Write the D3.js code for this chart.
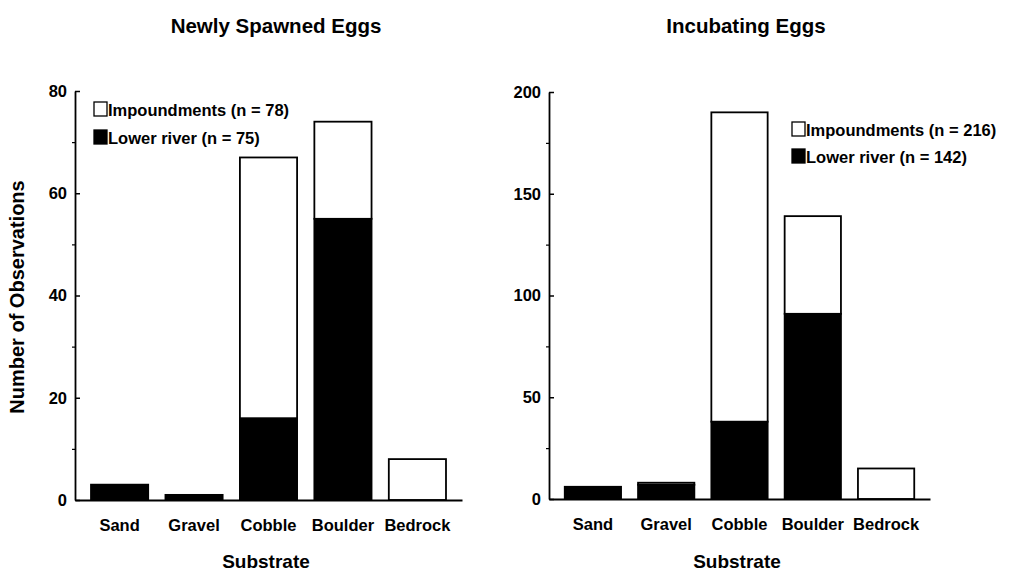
<!DOCTYPE html>
<html>
<head>
<meta charset="utf-8">
<script src="https://cdn.jsdelivr.net/npm/d3@7"></script>
<style>
  html, body { margin: 0; padding: 0; background: #fff; }
  svg { display: block; font-family: "Liberation Sans", Arial, Helvetica, sans-serif; }
</style>
</head>
<body>
<svg id="chart" width="1010" height="584"></svg>
<script>
// ---- data ----
const categories = ["Sand", "Gravel", "Cobble", "Boulder", "Bedrock"];
const spawnedLower = [3, 1, 16, 55, 0];
const spawnedImpound = [0, 0, 51, 19, 8];
const incubLower = [6, 7, 38, 91, 0];
const incubImpound = [0, 1, 152, 48, 15];
const spawnedTicks = [0, 20, 40, 60, 80];
const spawnedMinorTicks = [10, 30, 50, 70];
const incubTicks = [0, 50, 100, 150, 200];
const incubMinorTicks = [25, 75, 125, 175];
const spawnedLegend = ["Impoundments (n = 78)", "Lower river (n = 75)"];
const incubLegend = ["Impoundments (n = 216)", "Lower river (n = 142)"];

const svg = d3.select("#chart");

function panel(opt) {
  const rows = categories.map((c, i) => ({ cat: c, lower: opt.lower[i], impound: opt.impound[i] }));
  const x = d3.scaleBand().domain(categories).range([opt.x0, opt.x1])
    .paddingInner(0.232).paddingOuter(0.215);
  const y = d3.scaleLinear().domain([0, opt.max]).range([opt.yBottom, opt.yTop]);
  const g = svg.append("g");

  const stack = d3.stack().keys(["lower", "impound"])(rows);
  const fills = { lower: "#000", impound: "#fff" };
  stack.forEach(s => {
    g.append("g").selectAll("rect")
      .data(s.filter(d => d[1] - d[0] > 0))
      .join("rect")
      .attr("x", d => x(d.data.cat))
      .attr("width", x.bandwidth())
      .attr("y", d => y(d[1]))
      .attr("height", d => y(d[0]) - y(d[1]))
      .attr("fill", fills[s.key])
      .attr("stroke", "#000")
      .attr("stroke-width", 1.8);
  });

  // y axis (major ticks inward)
  const ya = g.append("g").attr("transform", `translate(${opt.x0},0)`)
    .call(d3.axisLeft(y).tickValues(opt.ticks).tickSizeInner(-5).tickSizeOuter(0).tickPadding(8));
  ya.select(".domain").attr("stroke-width", 1.8);
  ya.selectAll(".tick line").attr("stroke-width", 1.5);
  ya.selectAll(".tick text").attr("font-size", 16.5).attr("font-weight", "bold").attr("fill", "#000");
  // minor ticks
  const ym = g.append("g").attr("transform", `translate(${opt.x0},0)`)
    .call(d3.axisLeft(y).tickValues(opt.minor).tickSizeInner(3).tickSizeOuter(0).tickFormat(""));
  ym.select(".domain").remove();
  ym.selectAll(".tick line").attr("stroke-width", 1.2);

  // x axis
  const xa = g.append("g").attr("transform", `translate(0,${opt.yBottom})`)
    .call(d3.axisBottom(x).tickSize(0).tickSizeOuter(0).tickPadding(19));
  xa.select(".domain").attr("stroke-width", 2);
  xa.selectAll(".tick text").attr("font-size", 16.5).attr("font-weight", "bold").attr("fill", "#000");

  // title
  g.append("text").attr("x", opt.titleX).attr("y", 33).attr("text-anchor", "middle")
    .attr("font-size", 20.5).attr("font-weight", "bold").text(opt.title);

  // x title
  g.append("text").attr("x", opt.subX).attr("y", 568).attr("text-anchor", "middle")
    .attr("font-size", 19).attr("font-weight", "bold").text("Substrate");

  // legend
  const lg = g.append("g").attr("transform", `translate(${opt.legX},${opt.legY})`);
  opt.legend.forEach((t, i) => {
    const yy = i * opt.legGap;
    lg.append("rect").attr("x", 0).attr("y", yy - 14).attr("width", 13).attr("height", 14)
      .attr("fill", i === 0 ? "#fff" : "#000").attr("stroke", "#000").attr("stroke-width", 1.3);
    lg.append("text").attr("x", 14).attr("y", yy).attr("font-size", 16.5)
      .attr("font-weight", "bold").text(t);
  });
}

panel({
  lower: spawnedLower, impound: spawnedImpound, max: 80,
  ticks: spawnedTicks, minor: spawnedMinorTicks,
  x0: 75, x1: 462, yBottom: 500, yTop: 91,
  title: "Newly Spawned Eggs", titleX: 276, subX: 266,
  legend: spawnedLegend, legX: 94, legY: 116, legGap: 28
});
panel({
  lower: incubLower, impound: incubImpound, max: 200,
  ticks: incubTicks, minor: incubMinorTicks,
  x0: 549, x1: 930, yBottom: 499, yTop: 92,
  title: "Incubating Eggs", titleX: 746, subX: 737,
  legend: incubLegend, legX: 792, legY: 136, legGap: 27
});

// y axis title
svg.append("text").attr("transform", "translate(24,297) rotate(-90)")
  .attr("text-anchor", "middle").attr("font-size", 20).attr("font-weight", "bold")
  .text("Number of Observations");
</script>
</body>
</html>
